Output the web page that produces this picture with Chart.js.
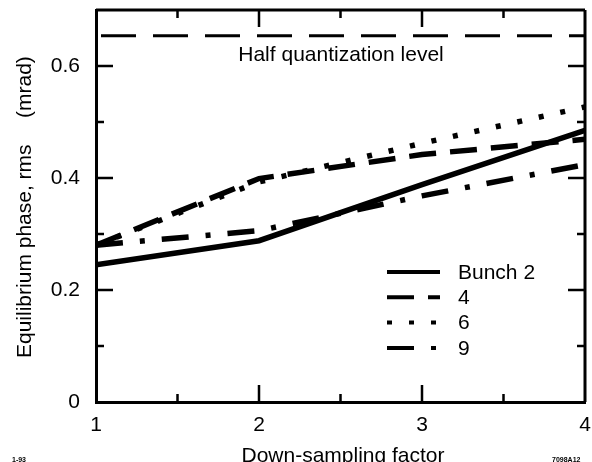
<!DOCTYPE html>
<html lang="en">
<head>
    <meta charset="UTF-8">
    <script src="https://cdn.jsdelivr.net/npm/chart.js"></script>
    <title>Equilibrium phase vs down-sampling factor</title>
    <style>
        body { margin: 0; background: #fff; }
        canvas { display: block; }
    </style>
</head>
<body>
    <canvas id="myChart" width="592" height="462"></canvas>
    <script>
        // values
        const factors = [1, 2, 3, 4];
        const bunch2 = [0.245, 0.288, 0.388, 0.485];
        const bunch4 = [0.28, 0.399, 0.442, 0.469];
        const bunch6 = [0.28, 0.393, 0.462, 0.527];
        const bunch9 = [0.28, 0.306, 0.368, 0.424];
        const halfQuantLevel = 0.654;

        const legendNames = ['Bunch 2', '4', '6', '9'];
        const xTickLabels = [1, 2, 3, 4];
        const yTickLabels = [0, 0.2, 0.4, 0.6];
        const xMinorTicks = [1.5, 2.5, 3.5];
        const yMinorTicks = [0.1, 0.3, 0.5];

        const FONT = 'Liberation Sans, Arial, Helvetica, sans-serif';
        const FS = 21;

        function toPoints(ys) {
            return factors.map((x, i) => ({ x: x, y: ys[i] }));
        }

        const lineStyles = [
            { borderDash: [] },
            { borderDash: [27, 14] },
            { borderDash: [5, 17] },
            { borderDash: [27, 17, 5, 17] }
        ];
        const seriesData = [bunch2, bunch4, bunch6, bunch9];

        const datasets = seriesData.map((ys, i) => ({
            label: legendNames[i],
            data: toPoints(ys),
            borderColor: '#000',
            borderWidth: 5.5,
            borderDash: lineStyles[i].borderDash,
            borderCapStyle: 'butt',
            pointRadius: 0,
            tension: 0,
            fill: false
        }));
        datasets.push({
            label: 'Half quantization level',
            data: [{ x: factors[0], y: halfQuantLevel }, { x: factors[factors.length - 1], y: halfQuantLevel }],
            borderColor: '#000',
            borderWidth: 3,
            borderDash: [35, 17],
            borderDashOffset: -5,
            pointRadius: 0,
            fill: false
        });

        function noPad(s) {
            s.paddingTop = 0; s.paddingBottom = 0;
            s.paddingLeft = 0; s.paddingRight = 0;
        }

        const framePlugin = {
            id: 'framePlugin',
            afterDraw(chart) {
                const c = chart.ctx;
                const a = chart.chartArea;
                const xs = chart.scales.x, ys = chart.scales.y;
                c.save();
                c.strokeStyle = '#000';
                c.fillStyle = '#000';
                c.lineWidth = 3;
                c.setLineDash([]);
                // top and right frame
                c.beginPath();
                c.moveTo(a.left, a.top); c.lineTo(a.right, a.top);
                c.moveTo(a.right, a.top); c.lineTo(a.right, a.bottom);
                c.stroke();

                // inward ticks
                c.lineWidth = 2.5;
                c.beginPath();
                xTickLabels.slice(1, -1).forEach(v => {
                    const px = xs.getPixelForValue(v);
                    c.moveTo(px, a.bottom); c.lineTo(px, a.bottom - 17);
                    c.moveTo(px, a.top); c.lineTo(px, a.top + 17);
                });
                xMinorTicks.forEach(v => {
                    const px = xs.getPixelForValue(v);
                    c.moveTo(px, a.bottom); c.lineTo(px, a.bottom - 8);
                    c.moveTo(px, a.top); c.lineTo(px, a.top + 8);
                });
                yTickLabels.slice(1).forEach(v => {
                    const py = ys.getPixelForValue(v);
                    c.moveTo(a.left, py); c.lineTo(a.left + 17, py);
                    c.moveTo(a.right, py); c.lineTo(a.right - 17, py);
                });
                yMinorTicks.forEach(v => {
                    const py = ys.getPixelForValue(v);
                    c.moveTo(a.left, py); c.lineTo(a.left + 8, py);
                    c.moveTo(a.right, py); c.lineTo(a.right - 8, py);
                });
                c.stroke();

                // reference line label
                c.font = FS + 'px ' + FONT;
                c.textAlign = 'center';
                c.textBaseline = 'alphabetic';
                c.fillText('Half quantization level', 341, ys.getPixelForValue(halfQuantLevel) + 25);

                // legend
                const lx0 = 387, lx1 = 440, ly0 = 272, lstep = 25.3;
                legendNames.forEach((name, i) => {
                    const y = ly0 + i * lstep;
                    c.lineWidth = 4;
                    c.lineCap = 'butt';
                    c.setLineDash(lineStyles[i].borderDash);
                    c.beginPath();
                    c.moveTo(lx0, y); c.lineTo(lx1, y);
                    c.stroke();
                    c.setLineDash([]);
                    c.textAlign = 'left';
                    c.textBaseline = 'middle';
                    c.fillText(name, 458, y + 1);
                });

                // axis titles
                c.textBaseline = 'alphabetic';
                c.textAlign = 'center';
                c.fillText('Down-sampling factor', 343, 462);
                c.save();
                c.translate(31, 358);
                c.rotate(-Math.PI / 2);
                c.textAlign = 'left';
                c.fillText('Equilibrium phase, rms', 0, 0);
                c.fillText('(mrad)', 240, 0);
                c.restore();

                // figure codes
                c.font = 'bold 7px ' + FONT;
                c.textAlign = 'left';
                c.fillText('1-93', 12, 462);
                c.fillText('7098A12', 552, 462);
                c.restore();
            }
        };

        const chart = new Chart(document.getElementById('myChart'), {
            type: 'line',
            data: { datasets: datasets },
            options: {
                responsive: false,
                animation: false,
                devicePixelRatio: 1,
                layout: { padding: { left: 0, right: 7, top: 10, bottom: 0 } },
                plugins: {
                    legend: { display: false },
                    tooltip: { enabled: false }
                },
                scales: {
                    x: {
                        type: 'linear',
                        min: 1,
                        max: 4,
                        afterBuildTicks: (s) => { s.ticks = xTickLabels.map(v => ({ value: v })); },
                        afterFit: (s) => { s.height = 60; noPad(s); },
                        grid: { display: false },
                        border: { display: true, width: 3, color: '#000' },
                        ticks: {
                            color: '#000',
                            padding: 3,
                            maxRotation: 0,
                            autoSkip: false,
                            font: { family: FONT, size: FS },
                            callback: (v) => String(v)
                        }
                    },
                    y: {
                        type: 'linear',
                        min: 0,
                        max: 0.70,
                        afterBuildTicks: (s) => { s.ticks = yTickLabels.map(v => ({ value: v })); },
                        afterFit: (s) => { s.width = 96; noPad(s); },
                        grid: { display: false },
                        border: { display: true, width: 3, color: '#000' },
                        ticks: {
                            color: '#000',
                            padding: 8,
                            autoSkip: false,
                            font: { family: FONT, size: FS },
                            callback: (v) => String(v)
                        }
                    }
                }
            },
            plugins: [framePlugin]
        });
    </script>
</body>
</html>
